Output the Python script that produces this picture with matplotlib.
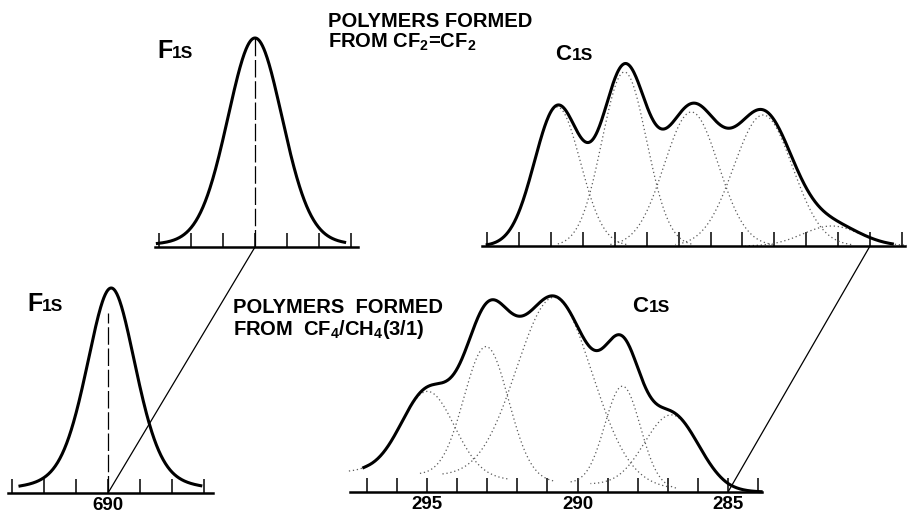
import numpy as np
import matplotlib
matplotlib.use("Agg")
import matplotlib.pyplot as plt
from matplotlib.patches import ConnectionPatch

plt.rcParams['font.family'] = ['Liberation Sans', 'DejaVu Sans']
plt.rcParams['font.weight'] = 'bold'
plt.rcParams['mathtext.fontset'] = 'custom'
plt.rcParams['mathtext.rm'] = 'Liberation Sans:bold'
plt.rcParams['mathtext.default'] = 'regular'

# binding energies (eV) and peak heights (arbitrary units)
top_f1s_center = 690.0
top_f1s_height = 209
top_f1s_fwhm = 2.05
top_f1s_lorentz = 0.15
bot_f1s_center = 689.9
bot_f1s_height = 205
bot_f1s_fwhm = 1.85
bot_f1s_lorentz = 0.35

top_c1s_centers = [294.8, 292.7, 290.6, 288.35, 286.2]
top_c1s_heights = [139, 174, 134, 131, 20]
top_c1s_sigmas = [0.72, 0.70, 0.85, 0.92, 0.9]

bot_c1s_centers = [294.97, 293.03, 290.77, 288.5, 286.87]
bot_c1s_heights = [84, 132, 185, 100, 74]
bot_c1s_sigmas = [0.88, 0.74, 1.25, 0.59, 0.9]
bot_bg_ends = [297.0, 285.0]
bot_bg_levels = [20, 0]

c1s_ticks = list(range(284, 298))
f1s_ticks = list(range(687, 694))
c1s_labels = {295: "295", 290: "290", 285: "285"}
f1s_labels = {690: "690"}

W, H = 907, 519


def gauss(x, c, h, s):
    return h * np.exp(-(x - c) ** 2 / (2 * s ** 2))


def pvoigt(x, c, h, w, m):
    g = np.exp(-4 * np.log(2) * (x - c) ** 2 / w ** 2)
    l = 1 / (1 + 4 * (x - c) ** 2 / w ** 2)
    return h * ((1 - m) * g + m * l)


def panel(fig, left, right, base, height, e_left, e_right, ticks, labels):
    ax = fig.add_axes([left / W, (H - base) / H, (right - left) / W, height / H])
    ax.set_xlim(e_left, e_right)
    ax.set_ylim(0, height)
    for s in ["left", "right", "top"]:
        ax.spines[s].set_visible(False)
    ax.spines["bottom"].set_linewidth(1.8)
    ax.set_yticks([])
    ax.set_xticks(ticks)
    ax.set_xticklabels([labels.get(t, "") for t in ticks], fontsize=13.5, fontweight="bold")
    ax.tick_params(axis="x", direction="in", length=10, width=1.1, pad=3)
    ax.patch.set_alpha(0)
    return ax


fig = plt.figure(figsize=(W / 100, H / 100), dpi=100)

# top F1s: 690 eV at x=255 px, 32 px per eV
ax1 = panel(fig, 155, 358, 247, 215, 690 + 100 / 32, 690 - 103 / 32, f1s_ticks, {})
x = np.linspace(693.05, 687.2, 400)
ax1.plot(x, pvoigt(x, top_f1s_center, top_f1s_height, top_f1s_fwhm, top_f1s_lorentz),
         color="black", lw=2.2, clip_on=False)
ax1.plot([690, 690], [0, top_f1s_height], color="black", lw=0.9,
         ls=(0, (14, 3)), clip_on=False)

# bottom F1s: 690 eV at x=108 px
ax2 = panel(fig, 8, 213, 493, 215, 690 + 100 / 32, 690 - 105 / 32, f1s_ticks, f1s_labels)
x = np.linspace(692.75, 687.1, 400)
ax2.plot(x, pvoigt(x, bot_f1s_center, bot_f1s_height, bot_f1s_fwhm, bot_f1s_lorentz),
         color="black", lw=2.2, clip_on=False)
ax2.plot([690, 690], [0, 180], color="black", lw=0.9, ls=(0, (14, 3)), clip_on=False)

# top C1s: 285 eV at x=870 px, 31.9 px per eV
ax3 = panel(fig, 482, 905, 246, 215, 285 + 388 / 31.9, 285 - 35 / 31.9, c1s_ticks, {})
x = np.linspace(297.0, 284.3, 600)
env = np.zeros_like(x)
for c, h, s in zip(top_c1s_centers, top_c1s_heights, top_c1s_sigmas):
    env += gauss(x, c, h, s)
    xc = np.linspace(c - 3 * s, c + 3 * s, 200)
    ax3.plot(xc, gauss(xc, c, h, s), color="0.35", lw=0.9, ls=(0, (1, 2.2)), clip_on=False)
ax3.plot(x, env, color="black", lw=2.2, clip_on=False)

# bottom C1s: 285 eV at x=728 px, 30.1 px per eV
ax4 = panel(fig, 350, 762, 492, 215, 285 + 378 / 30.1, 285 - 34 / 30.1, c1s_ticks, c1s_labels)


def bot_bg(e):
    return np.clip(np.interp(e, bot_bg_ends[::-1], bot_bg_levels[::-1]), 0, None)


x = np.linspace(297.1, 283.9, 600)
env = bot_bg(x).astype(float)
for c, h, s in zip(bot_c1s_centers, bot_c1s_heights, bot_c1s_sigmas):
    env += gauss(x, c, h, s)
    xc = np.linspace(c - 3 * s, c + 3 * s, 200)
    ax4.plot(xc, bot_bg(xc) + gauss(xc, c, h, s), color="0.35", lw=0.9,
             ls=(0, (1, 2.2)), clip_on=False)
ax4.plot(x, env, color="black", lw=2.2, clip_on=False)

# lines joining the energy scales
for a, b, e in [(ax1, ax2, 690), (ax3, ax4, 285)]:
    con = ConnectionPatch(xyA=(e, 0), coordsA=a.transData, xyB=(e, 0),
                          coordsB=b.transData, color="black", lw=0.9)
    fig.add_artist(con)


def label(x, y, txt, size=14.5):
    fig.text(x / W, 1 - y / H, txt, fontsize=size, fontweight="bold",
             ha="left", va="baseline")


label(157, 58, "F", 18)
label(172, 58, "1S", 12.5)
label(27, 311, "F", 18)
label(42, 311, "1S", 12.5)
label(555, 60, "C", 16)
label(572, 60, "1S", 12.5)
label(632, 312, "C", 16)
label(649, 312, "1S", 12.5)

label(328, 27, "POLYMERS FORMED")
label(328, 48, "FROM CF$_2$=CF$_2$")
label(233, 313, "POLYMERS  FORMED")
label(233, 335, "FROM  CF$_4$/CH$_4$(3/1)")

fig.savefig("out.png", dpi=100)
